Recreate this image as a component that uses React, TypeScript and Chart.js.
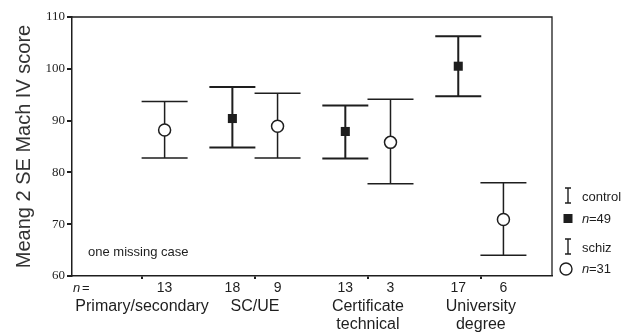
import React, { useEffect, useRef } from "react";
import { Chart, registerables } from "chart.js";

Chart.register(...registerables);

const groupLabels: string[][] = [["Primary/secondary"], ["SC/UE"], ["Certificate", "technical"], ["University", "degree"]];
const groupPositions = [1, 2, 3, 4];
const controlMean: (number | null)[] = [null, 90.4, 87.9, 100.5];
const controlUpper: (number | null)[] = [null, 96.5, 92.9, 106.3];
const controlLower: (number | null)[] = [null, 84.8, 82.7, 94.7];
const controlN: (number | null)[] = [null, 18, 13, 17];
const schizMean = [88.2, 88.9, 85.8, 70.9];
const schizUpper = [93.7, 95.3, 94.1, 78.0];
const schizLower = [82.8, 82.8, 77.8, 64.0];
const schizN = [13, 9, 3, 6];
const yTickValues = [60, 70, 80, 90, 100, 110];
const seriesOffset = 0.2;
const legendControl = ["control", "49"];
const legendSchiz = ["schiz", "31"];
const note = "one missing case";
const yTitle = "Meang 2 SE Mach IV score";

const SANS = "'Liberation Sans', Arial, sans-serif";
const SERIF = "'Liberation Serif', 'Times New Roman', serif";
const INK = "#1e1e1e";

const overlay = {
  id: "overlay",
  beforeDatasetsDraw(chart: any) {
    const { ctx, chartArea, scales } = chart;
    const x = scales.x, y = scales.y;
    ctx.save();
    ctx.strokeStyle = INK;
    ctx.lineWidth = 1.3;
    ctx.beginPath();
    ctx.moveTo(chartArea.left, chartArea.top);
    ctx.lineTo(chartArea.right, chartArea.top);
    ctx.lineTo(chartArea.right, chartArea.bottom);
    ctx.stroke();

    const bar = (xv: number, lo: number, hi: number, lw: number) => {
      const px = x.getPixelForValue(xv);
      const pl = y.getPixelForValue(lo);
      const ph = y.getPixelForValue(hi);
      const hw = 23;
      ctx.lineWidth = lw;
      ctx.beginPath();
      ctx.moveTo(px, pl); ctx.lineTo(px, ph);
      ctx.moveTo(px - hw, pl); ctx.lineTo(px + hw, pl);
      ctx.moveTo(px - hw, ph); ctx.lineTo(px + hw, ph);
      ctx.stroke();
    };
    groupPositions.forEach((g, i) => {
      const lo = controlLower[i], hi = controlUpper[i];
      if (lo != null && hi != null) bar(g - seriesOffset, lo, hi, 2);
      bar(g + seriesOffset, schizLower[i], schizUpper[i], 1.5);
    });
    ctx.restore();
  },
  afterDraw(chart: any) {
    const { ctx, chartArea, scales } = chart;
    const x = scales.x;
    ctx.save();
    ctx.fillStyle = INK;
    ctx.textBaseline = "middle";

    // note
    ctx.font = `13px ${SANS}`;
    ctx.textAlign = "left";
    ctx.fillText(note, chartArea.left + 16, 252);

    // n = row
    const rowY = chartArea.bottom + 12;
    ctx.font = `italic 13px ${SANS}`;
    ctx.fillText("n", chartArea.left + 1, rowY);
    ctx.font = `13px ${SANS}`;
    ctx.fillText("=", chartArea.left + 10, rowY);
    ctx.textAlign = "center";
    ctx.font = `14px ${SANS}`;
    groupPositions.forEach((g, i) => {
      const cn = controlN[i];
      if (cn != null) ctx.fillText(String(cn), x.getPixelForValue(g - seriesOffset), rowY);
      ctx.fillText(String(schizN[i]), x.getPixelForValue(g + seriesOffset), rowY);
    });

    // group labels
    ctx.font = `16px ${SANS}`;
    groupPositions.forEach((g, i) => {
      const px = x.getPixelForValue(g);
      groupLabels[i].forEach((line, k) => {
        ctx.fillText(line, px, chartArea.bottom + 31 + k * 18);
      });
    });

    // legend
    const lx = chartArea.right + 16;
    const tx = chartArea.right + 30;
    const ibar = (cx: number, top: number, bot: number) => {
      ctx.strokeStyle = INK;
      ctx.lineWidth = 1.4;
      ctx.beginPath();
      ctx.moveTo(cx, top); ctx.lineTo(cx, bot);
      ctx.moveTo(cx - 3, top); ctx.lineTo(cx + 3, top);
      ctx.moveTo(cx - 3, bot); ctx.lineTo(cx + 3, bot);
      ctx.stroke();
    };
    ctx.textAlign = "left";
    ibar(lx, 188, 203);
    ctx.font = `13px ${SANS}`;
    ctx.fillText(legendControl[0], tx, 197);
    ctx.fillRect(lx - 4.5, 214, 9, 9);
    ctx.font = `italic 13px ${SANS}`;
    ctx.fillText("n", tx, 219);
    ctx.font = `13px ${SANS}`;
    ctx.fillText("=" + legendControl[1], tx + 7, 219);

    ibar(lx, 239, 254);
    ctx.fillText(legendSchiz[0], tx, 248);
    ctx.beginPath();
    ctx.lineWidth = 1.4;
    ctx.arc(lx - 2, 269, 6, 0, Math.PI * 2);
    ctx.stroke();
    ctx.font = `italic 13px ${SANS}`;
    ctx.fillText("n", tx, 269);
    ctx.font = `13px ${SANS}`;
    ctx.fillText("=" + legendSchiz[1], tx + 7, 269);
    ctx.restore();
  },
};

export default function App() {
  const ref = useRef<HTMLCanvasElement | null>(null);
  useEffect(() => {
    if (!ref.current) return;
    const chart = new Chart(ref.current, {
      type: "scatter",
      data: {
        datasets: [
          {
            label: "control",
            data: groupPositions
              .map((g, i) => (controlMean[i] == null ? null : { x: g - seriesOffset, y: controlMean[i] as number }))
              .filter((p) => p != null) as any,
            pointStyle: "rect",
            pointRadius: 6.4,
            backgroundColor: INK,
            borderColor: INK,
            borderWidth: 0,
          },
          {
            label: "schiz",
            data: groupPositions.map((g, i) => ({ x: g + seriesOffset, y: schizMean[i] })),
            pointStyle: "circle",
            pointRadius: 6,
            backgroundColor: "#ffffff",
            borderColor: INK,
            borderWidth: 1.5,
          },
        ],
      },
      options: {
        responsive: false,
        animation: false,
        events: [],
        layout: { padding: { top: 17, right: 71, bottom: 56, left: 0 } },
        plugins: { legend: { display: false }, tooltip: { enabled: false } },
        scales: {
          x: {
            type: "linear",
            min: 0.38,
            max: 4.63,
            afterBuildTicks: (scale: any) => {
              scale.ticks = groupPositions.map((v) => ({ value: v }));
            },
            afterFit: (scale: any) => {
              scale.height = 0;
            },
            ticks: { display: false },
            grid: { drawOnChartArea: false, drawTicks: true, tickLength: 3, color: INK, lineWidth: 2 },
            border: { display: true, color: INK, width: 1.5 },
          },
          y: {
            min: 60,
            max: 110,
            afterBuildTicks: (scale: any) => {
              scale.ticks = yTickValues.map((v) => ({ value: v }));
            },
            afterFit: (scale: any) => {
              scale.width = 72;
            },
            ticks: { font: { family: SERIF, size: 13 }, color: INK, padding: 2 },
            grid: { drawOnChartArea: false, drawTicks: true, tickLength: 5, color: INK, lineWidth: 2 },
            border: { display: true, color: INK, width: 1.5 },
            title: {
              display: true,
              text: yTitle,
              font: { family: SANS, size: 20 },
              color: "#333",
              padding: { top: 12, bottom: 0 },
            },
          },
        },
      },
      plugins: [overlay],
    });
    return () => chart.destroy();
  }, []);
  return (
    <div style={{ position: "fixed", left: 0, top: 0, width: 623, height: 332, background: "#fff" }}>
      <canvas ref={ref} width={623} height={332} style={{ display: "block" }} />
    </div>
  );
}
